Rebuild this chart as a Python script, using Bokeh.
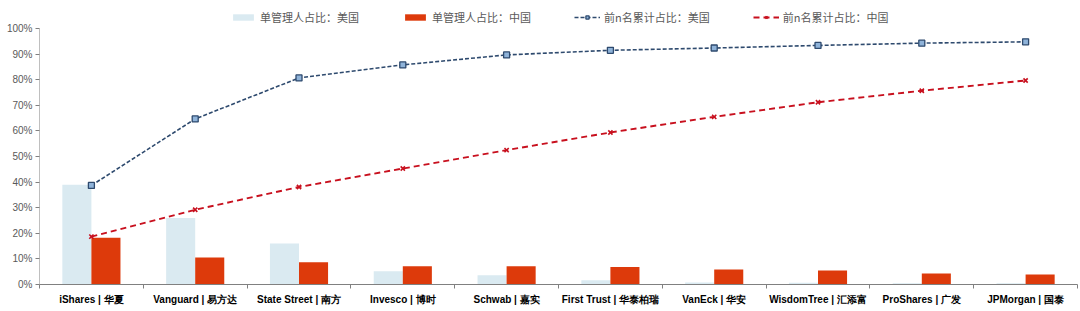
from bokeh.plotting import figure
from bokeh.models import (ColumnDataSource, FixedTicker, NumeralTickFormatter, Legend, LegendItem, Range1d)
from bokeh.embed import file_html
from bokeh.resources import INLINE

categories = ["iShares | 华夏", "Vanguard | 易方达", "State Street | 南方", "Invesco | 博时",
              "Schwab | 嘉实", "First Trust | 华泰柏瑞", "VanEck | 华安", "WisdomTree | 汇添富",
              "ProShares | 广发", "JPMorgan | 国泰"]
single_us = [0.39, 0.26, 0.16, 0.052, 0.036, 0.017, 0.008, 0.007, 0.005, 0.005]
single_cn = [0.183, 0.105, 0.087, 0.071, 0.071, 0.068, 0.059, 0.055, 0.043, 0.039]
cum_us = [0.387, 0.647, 0.807, 0.858, 0.897, 0.915, 0.924, 0.934, 0.943, 0.948]
cum_cn = [0.187, 0.292, 0.381, 0.453, 0.525, 0.594, 0.655, 0.712, 0.757, 0.797]
y_ticks = [i / 10 for i in range(11)]
legend_labels = ["单管理人占比：美国", "单管理人占比：中国", "前n名累计占比：美国", "前n名累计占比：中国"]

n = len(categories)
centers = [i + 0.5 for i in range(n)]
bounds = [float(i) for i in range(n + 1)]
bw = 0.28
y_top = 1.09  # headroom for the legend above the 100% tick

src = ColumnDataSource(dict(
    xc=centers,
    xus=[c - bw / 2 for c in centers],
    xcn=[c + bw / 2 for c in centers],
    us=single_us, cn=single_cn, cus=cum_us, ccn=cum_cn))

p = figure(width=1080, height=311, output_backend="svg", toolbar_location=None,
           x_range=Range1d(0, n), y_range=Range1d(0, y_top),
           min_border_left=39, min_border_right=3, min_border_top=5, min_border_bottom=27)
p.outline_line_color = None
p.xgrid.grid_line_color = None
p.ygrid.grid_line_color = None
p.background_fill_color = "white"
p.border_fill_color = "white"

r_us = p.vbar(x="xus", top="us", width=bw, source=src, fill_color="#DAEAF1", line_color=None)
r_cn = p.vbar(x="xcn", top="cn", width=bw, source=src, fill_color="#DD3A0B", line_color=None)

l_us = p.line(x="xc", y="cus", source=src, line_color="#2E4A6E", line_width=1.6, line_dash="4 2")
m_us = p.scatter(x="xc", y="cus", source=src, marker="square", size=6,
                 fill_color="#8FB3D9", line_color="#2E4A6E", line_width=1.3)
l_cn = p.line(x="xc", y="ccn", source=src, line_color="#C8101E", line_width=1.9, line_dash="6 4")
m_cn = p.scatter(x="xc", y="ccn", source=src, marker="x", size=6,
                 line_color="#C8101E", line_width=1.6)

# x axis
p.xaxis.ticker = FixedTicker(ticks=centers, minor_ticks=bounds)
p.xaxis.major_label_overrides = {c: lab for c, lab in zip(centers, categories)}
p.xaxis.major_tick_line_color = None
p.xaxis.minor_tick_line_color = "#808080"
p.xaxis.minor_tick_out = 4
p.xaxis.minor_tick_in = 0
p.xaxis.axis_line_color = "#808080"
p.xaxis.major_label_text_font = "Liberation Sans"
p.xaxis.major_label_text_font_style = "bold"
p.xaxis.major_label_text_font_size = "10px"
p.xaxis.major_label_text_color = "#000000"
p.xaxis.major_label_standoff = 3

# y axis (line drawn only up to the 100% tick)
p.yaxis.ticker = FixedTicker(ticks=y_ticks, minor_ticks=[])
p.yaxis.formatter = NumeralTickFormatter(format="0%")
p.yaxis.axis_line_color = None
p.yaxis.major_tick_line_color = "#808080"
p.yaxis.major_tick_out = 4
p.yaxis.major_tick_in = 0
p.yaxis.major_label_text_font = "Liberation Sans"
p.yaxis.major_label_text_font_size = "10px"
p.yaxis.major_label_text_color = "#595959"
p.yaxis.major_label_standoff = 3
p.segment(x0=[0], y0=[y_ticks[0]], x1=[0], y1=[y_ticks[-1]], line_color="#808080", line_width=1)

legend = Legend(items=[
    LegendItem(label=legend_labels[0], renderers=[r_us]),
    LegendItem(label=legend_labels[1], renderers=[r_cn]),
    LegendItem(label=legend_labels[2], renderers=[l_us, m_us]),
    LegendItem(label=legend_labels[3], renderers=[l_cn, m_cn]),
], orientation="horizontal", location=(191, 259))
legend.label_text_font = "Noto Sans CJK SC"
legend.label_text_font_size = "11px"
legend.label_text_color = "#595959"
legend.glyph_width = 26
legend.glyph_height = 8
legend.label_height = 10
legend.label_standoff = 4
legend.spacing = 43
legend.padding = 2
legend.margin = 0
legend.border_line_color = None
legend.background_fill_alpha = 0
p.add_layout(legend, "center")

open("out.html", "w").write(file_html(p, INLINE))
